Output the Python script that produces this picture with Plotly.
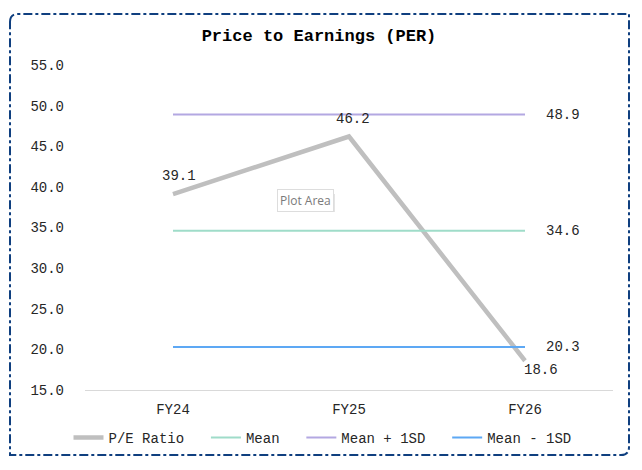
import plotly.graph_objects as go

# data
years = ["FY24", "FY25", "FY26"]
pe_ratio = [39.1, 46.2, 18.6]
mean_vals = [34.6, 34.6, 34.6]
mean_plus_sd = [48.9, 48.9, 48.9]
mean_minus_sd = [20.3, 20.3, 20.3]
y_ticks = [15, 20, 25, 30, 35, 40, 45, 50, 55]

# page body has an 8px margin, so the figure is 8px smaller and shifted
OFF = 8
W, H = 642 - OFF, 470 - OFF
L, R, T, B = 85 - OFF, 29, 65 - OFF, 80
FONT = "Liberation Mono, Courier New, monospace"
TXT = "#262626"
NB = "\u00a0\u00a0"  # extra room between legend entries

pw, ph = W - L - R, H - T - B


def px(x):
    return (x - OFF - L) / pw


def py(y):
    return (H - B - (y - OFF)) / ph


fig = go.Figure()
fig.add_trace(go.Scatter(
    x=years, y=pe_ratio, name="P/E Ratio" + NB, mode="lines",
    line=dict(color="#BFBFBF", width=4.5),
))
# data labels for P/E
shifts = [(6, 18), (4, 18), (16, -9)]
for yr, v, (dx, dy) in zip(years, pe_ratio, shifts):
    fig.add_annotation(x=yr, y=v, text=f"{v:.1f}", showarrow=False,
                       xshift=dx, yshift=dy, yanchor="middle",
                       font=dict(family=FONT, size=14, color=TXT))

series = [("Mean", mean_vals, "#9FDCC9"),
          ("Mean + 1SD", mean_plus_sd, "#B3A8E2"),
          ("Mean - 1SD", mean_minus_sd, "#5DA8F4")]
for name, vals, col in series:
    fig.add_trace(go.Scatter(x=years, y=vals, name=name + NB, mode="lines",
                             line=dict(color=col, width=2)))
    fig.add_annotation(x=years[-1], y=vals[-1], text=f"{vals[-1]:.1f}",
                       showarrow=False, xanchor="left", xshift=19,
                       font=dict(family=FONT, size=14, color=TXT))

# excel tooltip (soft shadow + box)
fig.add_shape(type="rect", xref="paper", yref="paper",
              x0=px(279), x1=px(335), y0=py(212), y1=py(194),
              line=dict(width=0), fillcolor="#E4E4E4", layer="below")
fig.add_annotation(xref="paper", yref="paper", x=px(305), y=py(200),
                   text="Plot Area", showarrow=False,
                   font=dict(family="Open Sans, sans-serif", size=12, color="#7a7a7a"),
                   bgcolor="white", bordercolor="#DDDDDD", borderwidth=1, borderpad=2)

# chart border, rounded top-left and bottom-right
x0, x1, y0, y1 = px(10), px(629), py(455), py(14)
rx, ry = 8 / pw, 8 / ph
path = (f"M {x0},{y1 - ry} Q {x0},{y1} {x0 + rx},{y1} L {x1},{y1} L {x1},{y0 + ry} "
        f"Q {x1},{y0} {x1 - rx},{y0} L {x0},{y0} Z")
fig.add_shape(type="path", xref="paper", yref="paper", path=path,
              line=dict(color="#0F3F7F", width=2, dash="dashdot"))

fig.update_layout(
    width=W, height=H, margin=dict(l=L, r=R, t=T, b=B),
    paper_bgcolor="white", plot_bgcolor="white",
    font=dict(family=FONT, size=14, color=TXT),
    title=dict(text="<b>Price to Earnings (PER)</b>", x=(319 - OFF) / W, xanchor="center",
               y=1 - (35 - OFF) / H, yanchor="middle",
               font=dict(family=FONT, size=17, color="#000")),
    legend=dict(orientation="h", x=px(331), xanchor="center", y=py(438), yanchor="middle",
                font=dict(family=FONT, size=14, color=TXT), itemwidth=30),
    showlegend=True,
)
fig.update_xaxes(type="category", range=[-0.5, 2.5], showline=True, linecolor="#D9D9D9",
                 linewidth=1, showgrid=False, ticks="", ticklabelstandoff=6,
                 tickfont=dict(family=FONT, size=14, color=TXT))
fig.update_yaxes(range=[15, 55], tickvals=y_ticks, tickformat=".1f", showgrid=False,
                 zeroline=False, showline=False, ticks="", ticklabelstandoff=20,
                 tickfont=dict(family=FONT, size=14, color=TXT))

fig.write_html("out.html")
